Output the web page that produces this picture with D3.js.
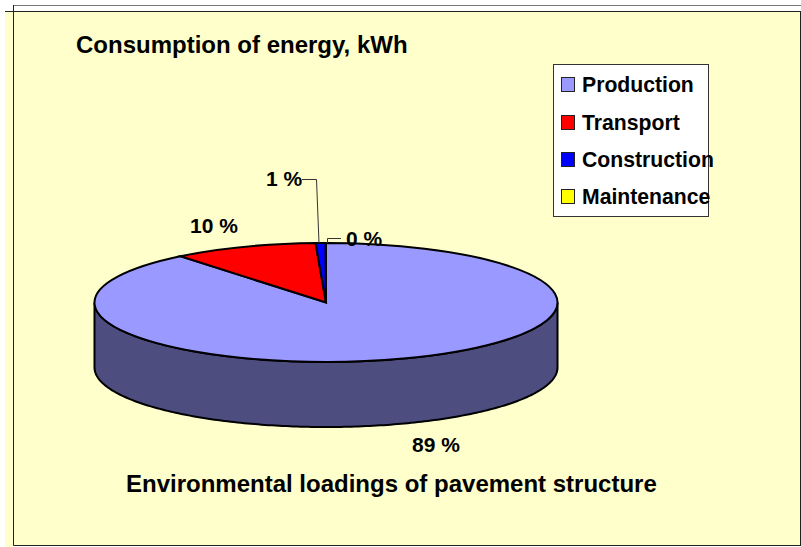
<html>
<head>
<script src="https://d3js.org/d3.v7.min.js"></script>
<style>
  body {margin: 0; background: white;}
  text {font-family: "Liberation Sans", Arial, sans-serif; font-weight: bold; fill: black;}
</style>
</head>
<body>
<svg id="chart" width="801" height="547"></svg>
<script>
var categories = ["Production", "Transport", "Construction", "Maintenance"];
var shares = [89.2, 10.1, 0.7, 0.02];
var shareLabels = ["89 %", "10 %", "1 %", "0 %"];
var colors = ["#9999ff", "#ff0000", "#0000ff", "#ffff00"];
var sideColor = "#4d4d80";
var legendTicks = [85, 123, 160, 197];

var svg = d3.select("#chart");
var cx = 326, cy = 302.5, rx = 231.5, ry = 59.5, depth = 65;

// background and frame
svg.append("rect").attr("x", 5).attr("y", 11).attr("width", 796).attr("height", 536).attr("fill", "#ffffcc");
svg.append("rect").attr("x", 14).attr("y", 546).attr("width", 787).attr("height", 1).attr("fill", "white");
svg.append("path").attr("d", "M13.5,5.5H801").attr("stroke", "#777").attr("fill", "none");
svg.append("path").attr("d", "M5,11.5H801").attr("stroke", "#222").attr("fill", "none");
svg.append("path").attr("d", "M13.5,5V545.5H801").attr("stroke", "#222").attr("fill", "none");
svg.append("path").attr("d", "M800.5,11V546").attr("stroke", "#222").attr("fill", "none");

// side wall of the disc, front half only
var rim = d3.scaleLinear().domain([0, 1]).range([Math.PI / 2, 3 * Math.PI / 2]);
var area = d3.area()
  .x(function(d) { return cx + rx * Math.sin(rim(d)); })
  .y0(function(d) { return cy - ry * Math.cos(rim(d)); })
  .y1(function(d) { return cy - ry * Math.cos(rim(d)) + depth; });
svg.append("path")
  .attr("d", area(d3.range(0, 1.001, 0.005)))
  .attr("fill", sideColor)
  .attr("stroke", "black")
  .attr("stroke-width", 2);

// top face
var pie = d3.pie().sort(null);
var arc = d3.arc().innerRadius(0).outerRadius(rx);
svg.append("g")
  .attr("transform", "translate(" + cx + "," + cy + ") scale(1," + (ry / rx) + ")")
  .selectAll("path")
  .data(pie(shares))
  .enter().append("path")
  .attr("d", arc)
  .attr("fill", function(d, i) { return colors[i]; })
  .attr("stroke", "black")
  .attr("stroke-width", 2)
  .attr("vector-effect", "non-scaling-stroke");

// leader lines
svg.append("path").attr("d", "M302,179.5H316.5L319,243").attr("fill", "none").attr("stroke", "#333");
svg.append("path").attr("d", "M341,238.5H327.5V243").attr("fill", "none").attr("stroke", "#333");

// value labels
var labelX = [436, 214, 284, 364];
var labelY = [452, 233, 186, 246];
svg.selectAll(".share")
  .data(shareLabels)
  .enter().append("text")
  .attr("class", "share")
  .attr("x", function(d, i) { return labelX[i]; })
  .attr("y", function(d, i) { return labelY[i]; })
  .attr("text-anchor", "middle")
  .attr("font-size", 21)
  .text(function(d) { return d; });

// titles
svg.append("text").attr("x", 76).attr("y", 53).attr("font-size", 24).text("Consumption of energy, kWh");
svg.append("text").attr("x", 126).attr("y", 492).attr("font-size", 24).text("Environmental loadings of pavement structure");

// legend
svg.append("rect").attr("x", 553.5).attr("y", 64.5).attr("width", 155).attr("height", 152)
  .attr("fill", "white").attr("stroke", "#333");
var legend = svg.selectAll(".legend")
  .data(categories)
  .enter().append("g")
  .attr("class", "legend")
  .attr("transform", function(d, i) { return "translate(561," + legendTicks[i] + ")"; });
legend.append("rect").attr("x", 0.5).attr("y", -7.5).attr("width", 13).attr("height", 14)
  .attr("fill", function(d, i) { return colors[i]; })
  .attr("stroke", "#222");
legend.append("text").attr("x", 21).attr("y", 7).attr("font-size", 21.2).text(function(d) { return d; });
</script>
</body>
</html>
